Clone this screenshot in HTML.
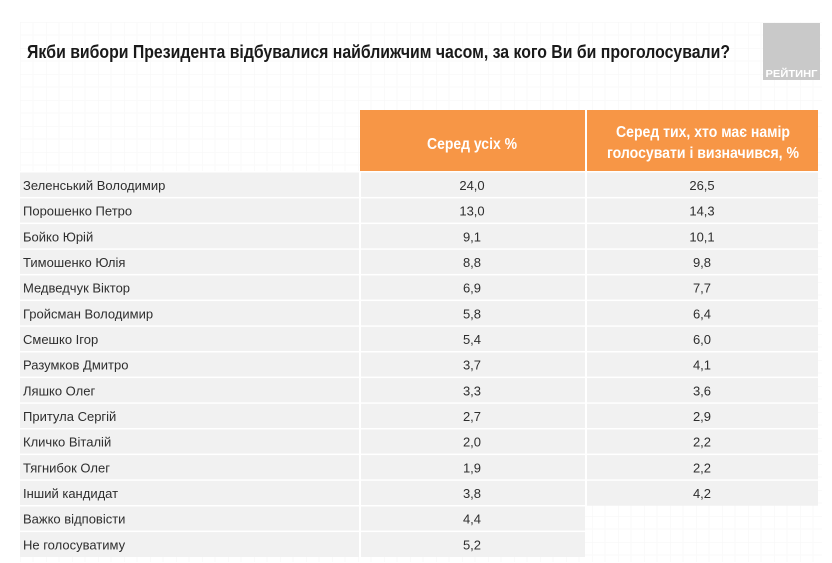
<!DOCTYPE html>
<html>
<head>
<meta charset="utf-8">
<style>
  html,body{margin:0;padding:0;background:#fff;}
  svg{display:block;}
  text{font-family:"Liberation Sans","Noto Sans CJK SC",sans-serif;}
</style>
</head>
<body>
<svg width="832" height="563" viewBox="0 0 832 563" xmlns="http://www.w3.org/2000/svg">
  <defs>
    <pattern id="grid" x="20" y="22" width="26" height="26" patternUnits="userSpaceOnUse">
      <path d="M0 0 H26 M0 0 V26" stroke="#f6f6f6" stroke-width="1" fill="none"/>
      <path d="M0 13 H26 M13 0 V26" stroke="#fafafa" stroke-width="1" fill="none"/>
    </pattern>
  </defs>
  <rect x="0" y="0" width="832" height="563" fill="#ffffff"/>
  <rect x="20" y="22" width="802" height="540" fill="url(#grid)"/>

  <!-- logo -->
  <rect x="763" y="23" width="57" height="57" fill="#c9c9c9"/>
  <text x="791.5" y="77" fill="#ffffff" font-size="10" font-weight="bold" text-anchor="middle" textLength="52" lengthAdjust="spacingAndGlyphs">РЕЙТИНГ</text>

  <!-- title -->
  <text x="27" y="58" fill="#1a1a1a" font-size="18" font-weight="bold" textLength="703" lengthAdjust="spacingAndGlyphs">Якби вибори Президента відбувалися найближчим часом, за кого Ви би проголосували?</text>

  <!-- header -->
  <rect x="360" y="110" width="458" height="61" fill="#f79646"/>
  <rect x="585" y="110" width="2" height="61" fill="#ffffff"/>
  <text x="472" y="149" fill="#ffffff" font-size="16" font-weight="bold" text-anchor="middle" textLength="90" lengthAdjust="spacingAndGlyphs">Серед усіх %</text>
  <text x="703" y="137" fill="#ffffff" font-size="16" font-weight="bold" text-anchor="middle" textLength="174" lengthAdjust="spacingAndGlyphs">Серед тих, хто має намір</text>
  <text x="703" y="158" fill="#ffffff" font-size="16" font-weight="bold" text-anchor="middle" textLength="192" lengthAdjust="spacingAndGlyphs">голосувати і визначився, %</text>

  <!-- body background -->
  <rect x="20" y="172" width="798" height="333.7" fill="#f1f1f1"/>
  <rect x="20" y="505.7" width="565" height="51.3" fill="#f1f1f1"/>

  <!-- horizontal separators -->
  <g fill="#ffffff">
    <rect x="20" y="171" width="798" height="1.5"/>
    <rect x="20" y="196.9" width="798" height="1.5"/>
    <rect x="20" y="222.6" width="798" height="1.5"/>
    <rect x="20" y="248.3" width="798" height="1.5"/>
    <rect x="20" y="273.9" width="798" height="1.5"/>
    <rect x="20" y="299.6" width="798" height="1.5"/>
    <rect x="20" y="325.3" width="798" height="1.5"/>
    <rect x="20" y="351.0" width="798" height="1.5"/>
    <rect x="20" y="376.6" width="798" height="1.5"/>
    <rect x="20" y="402.3" width="798" height="1.5"/>
    <rect x="20" y="428.0" width="798" height="1.5"/>
    <rect x="20" y="453.6" width="798" height="1.5"/>
    <rect x="20" y="479.3" width="798" height="1.5"/>
    <rect x="20" y="505.0" width="565" height="1.5"/>
    <rect x="20" y="530.6" width="565" height="1.5"/>
    <!-- vertical separators -->
    <rect x="359" y="172" width="2" height="385"/>
    <rect x="585" y="172" width="2" height="334"/>
  </g>

  <!-- labels -->
  <g fill="#2e2e2e" font-size="13">
    <text x="23" y="190">Зеленський Володимир</text>
    <text x="23" y="215.7">Порошенко Петро</text>
    <text x="23" y="241.3">Бойко Юрій</text>
    <text x="23" y="267">Тимошенко Юлія</text>
    <text x="23" y="292.7">Медведчук Віктор</text>
    <text x="23" y="318.3">Гройсман Володимир</text>
    <text x="23" y="344">Смешко Ігор</text>
    <text x="23" y="369.7">Разумков Дмитро</text>
    <text x="23" y="395.4">Ляшко Олег</text>
    <text x="23" y="421">Притула Сергій</text>
    <text x="23" y="446.7">Кличко Віталій</text>
    <text x="23" y="472.4">Тягнибок Олег</text>
    <text x="23" y="498">Інший кандидат</text>
    <text x="23" y="523.7">Важко відповісти</text>
    <text x="23" y="549.4">Не голосуватиму</text>
  </g>

  <!-- col 1 -->
  <g fill="#2e2e2e" font-size="13" text-anchor="middle">
    <text x="472" y="190">24,0</text>
    <text x="472" y="215.7">13,0</text>
    <text x="472" y="241.3">9,1</text>
    <text x="472" y="267">8,8</text>
    <text x="472" y="292.7">6,9</text>
    <text x="472" y="318.3">5,8</text>
    <text x="472" y="344">5,4</text>
    <text x="472" y="369.7">3,7</text>
    <text x="472" y="395.4">3,3</text>
    <text x="472" y="421">2,7</text>
    <text x="472" y="446.7">2,0</text>
    <text x="472" y="472.4">1,9</text>
    <text x="472" y="498">3,8</text>
    <text x="472" y="523.7">4,4</text>
    <text x="472" y="549.4">5,2</text>
  </g>

  <!-- col 2 -->
  <g fill="#2e2e2e" font-size="13" text-anchor="middle">
    <text x="702" y="190">26,5</text>
    <text x="702" y="215.7">14,3</text>
    <text x="702" y="241.3">10,1</text>
    <text x="702" y="267">9,8</text>
    <text x="702" y="292.7">7,7</text>
    <text x="702" y="318.3">6,4</text>
    <text x="702" y="344">6,0</text>
    <text x="702" y="369.7">4,1</text>
    <text x="702" y="395.4">3,6</text>
    <text x="702" y="421">2,9</text>
    <text x="702" y="446.7">2,2</text>
    <text x="702" y="472.4">2,2</text>
    <text x="702" y="498">4,2</text>
  </g>
</svg>
</body>
</html>
